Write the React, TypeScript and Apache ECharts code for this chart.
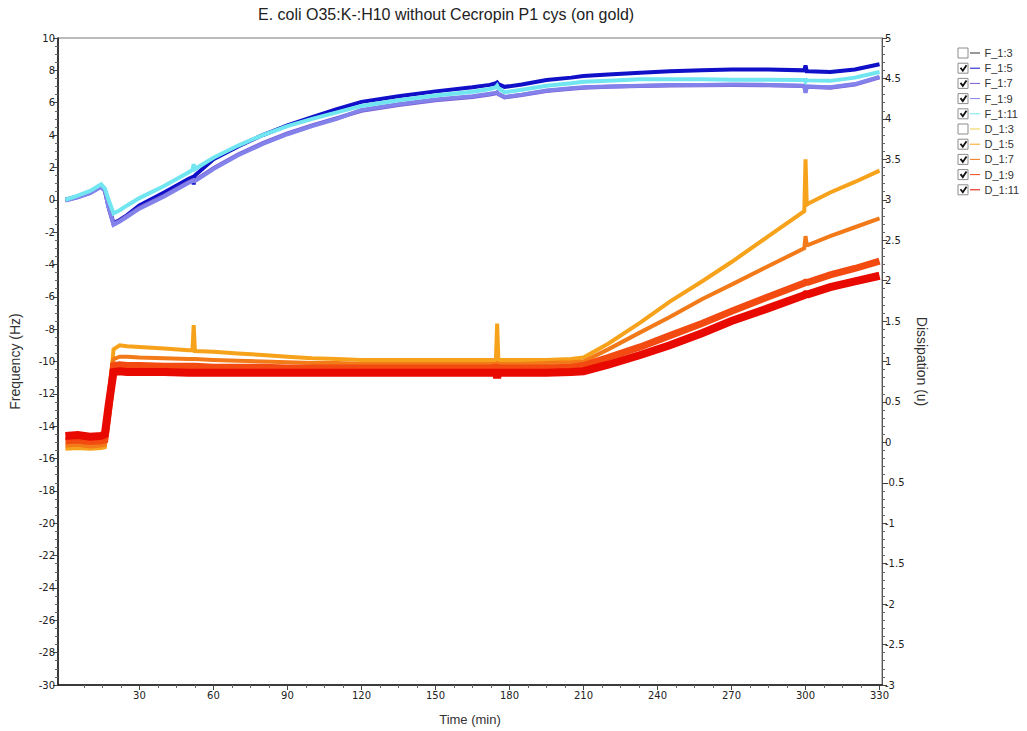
import React, { useEffect, useRef } from "react";
import * as echarts from "echarts";

const titleText = "E. coli O35:K-:H10 without Cecropin P1 cys (on gold)";
const seriesNames = ["F_1:3", "F_1:5", "F_1:7", "F_1:9", "F_1:11", "D_1:3", "D_1:5", "D_1:7", "D_1:9", "D_1:11"];
const checked = [false, true, true, true, true, false, true, true, true, true];
const seriesColors = ["#303030", "#1010c8", "#7a5cd6", "#8282ea", "#72e6f0", "#f0d050", "#f7a21b", "#f27a18", "#f24a10", "#e80a00"];

const xTicks = [30, 60, 90, 120, 150, 180, 210, 240, 270, 300, 330];
const xMinorTicks = [7.5, 15, 22.5, 37.5, 45, 52.5, 67.5, 75, 82.5, 97.5, 105, 112.5, 127.5, 135, 142.5, 157.5, 165, 172.5, 187.5, 195, 202.5, 217.5, 225, 232.5, 247.5, 255, 262.5, 277.5, 285, 292.5, 307.5, 315, 322.5];

// time (min)
const times = [0, 5, 10, 14.5, 16, 17.5, 19.5, 22, 25, 30, 40, 50, 51.5, 52, 52.5, 60, 70, 80, 90, 100, 110, 120, 135, 150, 165, 172, 174.5, 175, 175.5, 178, 185, 195, 205, 210, 220, 233, 245, 258, 270, 285, 299.5, 300, 300.5, 301, 310, 320, 330];

// Frequency (Hz)
const f15 = [0.0, 0.2, 0.45, 0.85, 0.6, -0.4, -1.45, -1.25, -0.95, -0.35, 0.45, 1.3, 1.4, 0.95, 1.5, 2.5, 3.3, 4.0, 4.6, 5.1, 5.6, 6.05, 6.4, 6.7, 6.95, 7.1, 7.2, 7.25, 7.15, 6.98, 7.12, 7.4, 7.55, 7.65, 7.75, 7.85, 7.95, 8.0, 8.05, 8.05, 8.0, 8.3, 7.95, 7.95, 7.9, 8.05, 8.38];
const f17 = [-0.03, 0.17, 0.42, 0.82, 0.57, -0.45, -1.5, -1.3, -1.0, -0.5, 0.25, 1.1, 1.2, 1.22, 1.2, 1.95, 2.8, 3.5, 4.1, 4.6, 5.05, 5.5, 5.85, 6.15, 6.35, 6.5, 6.58, 6.62, 6.52, 6.33, 6.48, 6.72, 6.86, 6.92, 6.98, 7.03, 7.07, 7.08, 7.1, 7.08, 7.03, 6.65, 6.98, 6.98, 6.93, 7.12, 7.57];
const f19 = [-0.05, 0.15, 0.4, 0.8, 0.55, -0.5, -1.55, -1.35, -1.05, -0.55, 0.2, 1.05, 1.15, 1.2, 1.15, 1.9, 2.75, 3.45, 4.05, 4.55, 5.0, 5.55, 5.9, 6.2, 6.4, 6.55, 6.62, 6.66, 6.55, 6.36, 6.5, 6.75, 6.9, 6.95, 7.0, 7.05, 7.1, 7.1, 7.12, 7.1, 7.05, 6.6, 7.0, 7.0, 6.95, 7.15, 7.6];
const f111 = [0.0, 0.25, 0.55, 0.95, 0.7, 0.0, -0.85, -0.65, -0.35, 0.1, 0.85, 1.7, 1.85, 2.2, 1.9, 2.6, 3.35, 4.0, 4.55, 5.0, 5.4, 5.8, 6.15, 6.45, 6.68, 6.85, 6.95, 7.05, 6.9, 6.65, 6.8, 7.05, 7.2, 7.3, 7.35, 7.45, 7.45, 7.45, 7.42, 7.42, 7.4, 7.3, 7.4, 7.38, 7.35, 7.55, 7.9];

// Dissipation (u)
const d15 = [-0.08, -0.07, -0.08, -0.07, -0.06, 0.45, 1.15, 1.2, 1.19, 1.18, 1.16, 1.14, 1.14, 1.45, 1.13, 1.12, 1.1, 1.08, 1.06, 1.04, 1.03, 1.02, 1.02, 1.02, 1.02, 1.02, 1.02, 1.47, 1.02, 1.02, 1.02, 1.02, 1.03, 1.05, 1.22, 1.48, 1.74, 1.99, 2.23, 2.55, 2.86, 3.5, 2.94, 2.95, 3.09, 3.22, 3.36];
const d17 = [-0.04, -0.03, -0.05, -0.04, -0.03, 0.4, 1.03, 1.06, 1.06, 1.05, 1.04, 1.03, 1.03, 1.03, 1.03, 1.02, 1.01, 1.0, 0.99, 0.98, 0.98, 0.97, 0.97, 0.97, 0.97, 0.97, 0.97, 0.98, 0.97, 0.97, 0.97, 0.98, 0.99, 1.0, 1.15, 1.36, 1.55, 1.77, 1.95, 2.18, 2.4, 2.55, 2.44, 2.44, 2.55, 2.66, 2.77];
const d19 = [0.02, 0.03, 0.01, 0.02, 0.03, 0.4, 0.95, 0.96, 0.95, 0.95, 0.94, 0.94, 0.94, 0.94, 0.94, 0.93, 0.93, 0.93, 0.92, 0.92, 0.92, 0.92, 0.92, 0.92, 0.92, 0.92, 0.93, 0.93, 0.92, 0.92, 0.92, 0.92, 0.93, 0.95, 1.05, 1.18, 1.32, 1.47, 1.62, 1.8, 1.97, 1.98, 1.98, 1.98, 2.07, 2.15, 2.24];
const d111 = [0.08, 0.09, 0.07, 0.08, 0.1, 0.45, 0.87, 0.88, 0.87, 0.87, 0.87, 0.86, 0.86, 0.86, 0.86, 0.86, 0.86, 0.86, 0.86, 0.86, 0.86, 0.86, 0.86, 0.86, 0.86, 0.86, 0.86, 0.8, 0.86, 0.86, 0.86, 0.86, 0.87, 0.88, 0.96, 1.08, 1.2, 1.35, 1.5, 1.66, 1.82, 1.83, 1.83, 1.83, 1.92, 1.99, 2.06];

const seriesValues: (number[] | null)[] = [null, f15, f17, f19, f111, null, d15, d17, d19, d111];
const seriesWidths = [1, 4, 4, 4, 4, 1, 4, 4, 7, 8];

const FONT = "Liberation Sans, Arial, sans-serif";
const TICKFONT = "DejaVu Sans, Verdana, sans-serif";

export default function App() {
  const ref = useRef<HTMLDivElement>(null);
  useEffect(() => {
    if (!ref.current) return;
    const chart = echarts.init(ref.current, null, { renderer: "svg" });

    const series = seriesNames.map((name, i) => {
      const vals = seriesValues[i];
      return {
        name,
        type: "line",
        xAxisIndex: 0,
        yAxisIndex: name.startsWith("F") ? 0 : 1,
        showSymbol: false,
        symbol: "none",
        color: seriesColors[i],
        lineStyle: { width: seriesWidths[i], color: seriesColors[i], join: "miter", cap: "butt" },
        data: vals ? times.map((t, k) => [t, vals[k]]) : [],
      };
    });

    const rowY0 = 53;
    const rowGap = 15.2;
    const graphics: any[] = [];
    checked.forEach((c, i) => {
      const y = rowY0 + i * rowGap;
      graphics.push({
        type: "rect",
        shape: { x: 958, y: y - 5, width: 10, height: 10 },
        style: { fill: "#fff", stroke: "#8c8c8c", lineWidth: 1 },
      });
      if (c) {
        graphics.push({
          type: "polyline",
          shape: { points: [[960.5, y - 0.5], [962.8, y + 2.5], [966.5, y - 3]] },
          style: { stroke: "#111", lineWidth: 1.8, fill: "none" },
        });
      }
    });

    const axisText = { fontFamily: TICKFONT, fontSize: 10, color: "#222" };

    chart.setOption({
      animation: false,
      backgroundColor: "#fff",
      title: {
        text: titleText,
        left: 258,
        top: 6,
        padding: 0,
        textStyle: { fontFamily: FONT, fontSize: 16, fontWeight: "normal", color: "#222" },
      },
      legend: {
        orient: "vertical",
        left: 970,
        top: 46.5,
        padding: 0,
        itemGap: 2.2,
        itemWidth: 11,
        itemHeight: 1,
        icon: "path://M0,0H10V1H0Z",
        data: seriesNames,
        selectedMode: false,
        textStyle: { fontFamily: FONT, fontSize: 11, color: "#333", lineHeight: 13, padding: [0, 0, 0, -1] },
      },
      grid: {
        left: 53,
        right: 145,
        top: 38,
        bottom: 41,
        show: true,
        borderColor: "#777",
        borderWidth: 1,
        backgroundColor: "#fff",
      },
      xAxis: [
        {
          type: "value",
          min: -3,
          max: 331,
          name: "Time (min)",
          nameLocation: "middle",
          nameGap: 28,
          nameTextStyle: { fontFamily: FONT, fontSize: 13, color: "#333" },
          axisLine: { show: true, onZero: false, lineStyle: { color: "#111", width: 1.5 } },
          axisTick: { show: true, length: 5, customValues: xTicks, lineStyle: { color: "#444" } },
          axisLabel: { ...axisText, margin: 5, customValues: xTicks },
          splitLine: { show: false },
        },
        {
          type: "value",
          min: -3,
          max: 331,
          position: "bottom",
          axisLine: { show: false, onZero: false },
          axisTick: { show: true, length: 3, customValues: xMinorTicks, lineStyle: { color: "#666" } },
          axisLabel: { show: false },
          splitLine: { show: false },
        },
      ],
      yAxis: [
        {
          type: "value",
          min: -30,
          max: 10,
          interval: 2,
          position: "left",
          name: "Frequency (Hz)",
          nameLocation: "middle",
          nameGap: 36,
          nameTextStyle: { fontFamily: FONT, fontSize: 14, color: "#333" },
          axisLine: { show: true, onZero: false, lineStyle: { color: "#111", width: 1.5 } },
          axisTick: { show: true, length: 5, lineStyle: { color: "#444" } },
          minorTick: { show: true, splitNumber: 4, length: 3, lineStyle: { color: "#666" } },
          axisLabel: { ...axisText, margin: 3 },
          splitLine: { show: false },
          minorSplitLine: { show: false },
        },
        {
          type: "value",
          min: -3,
          max: 5,
          interval: 0.5,
          position: "right",
          name: "Dissipation (u)",
          nameLocation: "middle",
          nameGap: 30,
          nameRotate: -90,
          nameTextStyle: { fontFamily: FONT, fontSize: 14, color: "#333" },
          axisLine: { show: true, onZero: false, lineStyle: { color: "#555", width: 1 } },
          axisTick: { show: true, length: 5, lineStyle: { color: "#444" } },
          minorTick: { show: true, splitNumber: 5, length: 3, lineStyle: { color: "#666" } },
          axisLabel: { ...axisText, margin: 3 },
          splitLine: { show: false },
          minorSplitLine: { show: false },
        },
      ],
      graphic: graphics,
      series,
    });
    return () => chart.dispose();
  }, []);
  return (
    <div
      ref={ref}
      style={{ position: "absolute", left: 0, top: 0, width: 1027, height: 731, background: "#fff" }}
    />
  );
}
